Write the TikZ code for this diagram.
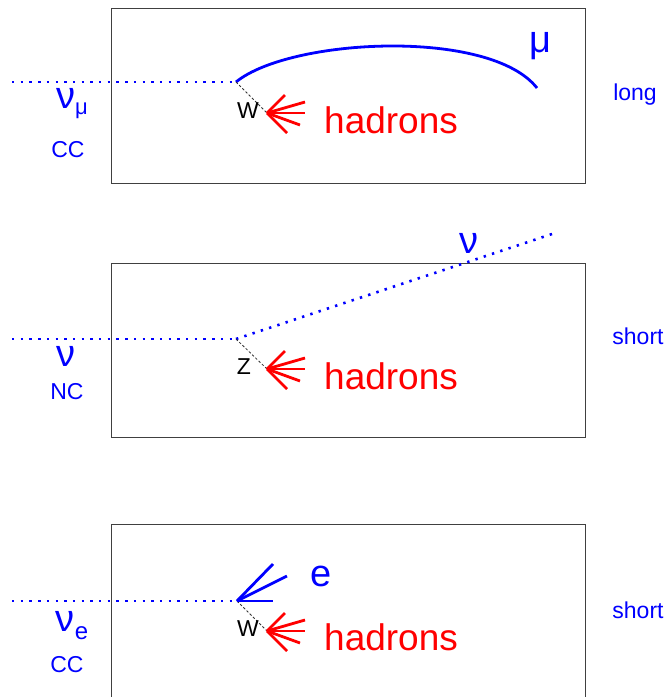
\documentclass[tikz,border=0pt]{standalone}
\usepackage{fontspec}
\setmainfont{Liberation Sans}
\begin{document}
\begin{tikzpicture}[x=1pt,y=-1pt,
  frame/.style={draw=black!75,line width=1.4pt},
  nuline/.style={draw=blue,line width=2.6pt,dash pattern=on 2.4pt off 6.3pt},
  boson/.style={draw=black!80,line width=0.8pt,dash pattern=on 2.5pt off 2pt},
  fanred/.style={draw=red,line width=2.8pt},
  fanblue/.style={draw=blue,line width=2.8pt},
  muon/.style={draw=blue,line width=2.8pt},
  hadtxt/.style={text=red,font=\fontsize{37}{40}\selectfont,inner sep=0pt},
  lbl/.style={text=blue,font=\fontsize{23}{26}\selectfont,inner sep=0pt},
  nulbl/.style={text=blue,font=\fontsize{38}{40}\selectfont,inner sep=0pt},
  bos/.style={text=black,font=\fontsize{23}{26}\selectfont,inner sep=0pt}]
\useasboundingbox (0,0) rectangle (667,697);
% frames
\node[frame,minimum width=474pt,minimum height=175pt,inner sep=0pt,anchor=north west] (box1) at (111,8) {};
\node[frame,minimum width=474pt,minimum height=174pt,inner sep=0pt,anchor=north west] (box2) at (111,263) {};
\node[frame,minimum width=474pt,minimum height=180pt,inner sep=0pt,anchor=north west] (box3) at (111,524) {};
% ---------- row 1 : nu_mu CC ----------
\coordinate (in1) at (12,82);
\coordinate (v1) at (236,82);
\coordinate (h1) at (267,113);
\coordinate (mu1) at (537,88);
\draw[nuline] (in1) -- (v1);
\draw[muon] (v1) .. controls (290,38) and (490,28) .. (mu1);
\draw[boson] (v1) -- (h1);
\foreach \d in {(18,-18),(38,-11),(38,0),(33,12),(20,20)}
  \draw[fanred] (h1) -- ++\d;
\node[nulbl] (mulbl) at (540,46) {μ};
\node[bos] (w1) at (248,111) {W};
\node[hadtxt,anchor=west] (had1) at (324,120) {hadrons};
\node[nulbl] (nu1) at (72,104) {ν\raisebox{-6pt}{\fontsize{22}{24}\selectfont μ}};
\node[lbl] (cc1) at (68,150) {CC};
\node[lbl] (len1) at (635,95) {long};
% ---------- row 2 : nu NC ----------
\coordinate (in2) at (12,339);
\coordinate (v2) at (236,339);
\coordinate (h2) at (267,369);
\coordinate (out2) at (555,233);
\draw[nuline] (in2) -- (v2);
\draw[nuline] (v2) -- (out2);
\draw[boson] (v2) -- (h2);
\foreach \d in {(18,-18),(38,-11),(38,0),(33,12),(20,20)}
  \draw[fanred] (h2) -- ++\d;
\node[nulbl] (nuout) at (469,243) {ν};
\node[bos] (z2) at (244,367) {Z};
\node[hadtxt,anchor=west] (had2) at (324,376) {hadrons};
\node[nulbl] (nu2) at (66,356) {ν};
\node[lbl] (nc2) at (67,392) {NC};
\node[lbl] (len2) at (638,336) {short};
% ---------- row 3 : nu_e CC ----------
\coordinate (in3) at (12,601);
\coordinate (v3) at (237,601);
\coordinate (h3) at (267,631);
\draw[nuline] (in3) -- (v3);
\draw[boson] (v3) -- (h3);
\foreach \d in {(18,-18),(38,-11),(38,0),(33,12),(20,20)}
  \draw[fanred] (h3) -- ++\d;
\foreach \d in {(36,-37),(50,-25),(36,0)}
  \draw[fanblue] (v3) -- ++\d;
\node[nulbl] (elbl) at (321,576) {e};
\node[bos] (w3) at (248,629) {W};
\node[hadtxt,anchor=west] (had3) at (324,637) {hadrons};
\node[nulbl] (nu3) at (72,626) {ν\raisebox{-8pt}{\fontsize{24}{26}\selectfont e}};
\node[lbl] (cc3) at (67,665) {CC};
\node[lbl] (len3) at (638,610) {short};
\end{tikzpicture}
\end{document}
